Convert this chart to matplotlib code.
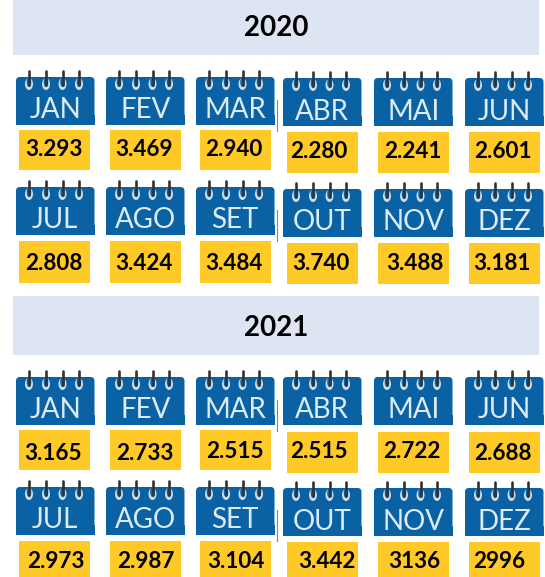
import matplotlib
matplotlib.use("Agg")
import matplotlib.pyplot as plt
from matplotlib.patches import Rectangle, FancyBboxPatch, Ellipse

years = ["2020", "2021"]
months = ["JAN", "FEV", "MAR", "ABR", "MAI", "JUN", "JUL", "AGO", "SET", "OUT", "NOV", "DEZ"]
values_2020 = ["3.293", "3.469", "2.940", "2.280", "2.241", "2.601",
               "2.808", "3.424", "3.484", "3.740", "3.488", "3.181"]
values_2021 = ["3.165", "2.733", "2.515", "2.515", "2.722", "2.688",
               "2.973", "2.987", "3.104", "3.442", "3136", "2996"]

# layout, in reference pixels
W, H = 545, 577
BLUE, YEL, BAND = "#0A62A5", "#FFC928", "#DCE5F1"
cal_left = [16, 106, 196, 283, 374, 465]
cal_w = 78.5
box_left = [19, 110, 200, 287, 378, 469]
box_w = 70.5
band_rows = [(0, 55), (296, 355)]
title_y = [28.5, 327.5]
# [year][row][left half, right half]
cal_top = [[(77, 78), (187, 189)], [(377, 377), (487, 488)]]
cal_h = 48
box_top = [[(130, 132), (241, 243)], [(430, 432), (541, 542)]]
box_bot = [[(170, 173), (283, 284)], [(470, 473), (580, 580)]]
label_x = [[54, 144, 234, 319, 413, 503, 54, 144, 234, 321, 415, 502],
           [53, 145, 235, 319, 412, 503, 56, 146, 236, 327, 414, 499]]
label_y = [[150, 150, 150, 151, 151, 151, 264, 264, 264, 264, 264, 264],
           [453, 453, 452, 451, 451, 454, 562, 562, 562, 562, 562, 562]]

fig = plt.figure(figsize=(W / 100, H / 100), dpi=100)
ax = fig.add_axes([0, 0, 1, 1])
ax.set_xlim(0, W)
ax.set_ylim(H, 0)
ax.axis("off")
fam = ["Lato", "DejaVu Sans"]


def calendar(x, top, name):
    bot = top + cal_h
    ax.add_patch(FancyBboxPatch((x, top), cal_w, cal_h,
                                boxstyle="round,pad=0,rounding_size=4",
                                fc=BLUE, ec="none", zorder=2))
    ax.add_patch(Rectangle((x, bot - 10), cal_w, 10, fc=BLUE, ec="none", zorder=2))
    for dx in (13, 30, 46.5, 63):
        ax.add_patch(Ellipse((x + dx, top + 7), 8, 12, fc="#C9DDEC", ec="none", zorder=3))
        ax.add_patch(Ellipse((x + dx, top + 5), 4.5, 10, fc=BLUE, ec="none", zorder=3.1))
        ax.plot([x + dx, x + dx], [top - 6, top + 8], color="#2E3338", lw=1.9,
                solid_capstyle="round", zorder=4)
    ax.text(x + cal_w / 2, top + 33.5, name, color="#DCEBF5", fontsize=20, family=fam,
            ha="center", va="center", zorder=5)


for k, values in enumerate([values_2020, values_2021]):
    b0, b1 = band_rows[k]
    ax.add_patch(Rectangle((13, b0), 526, b1 - b0, fc=BAND, ec="none", zorder=1))
    ax.text(276, title_y[k], years[k], fontsize=20, fontweight="bold", family=fam,
            ha="center", va="center", color="black", zorder=5)
    for i, (m, v) in enumerate(zip(months, values)):
        r, c = i // 6, i % 6
        side = 0 if c < 3 else 1
        calendar(cal_left[c], cal_top[k][r][side], m)
        y0, y1 = box_top[k][r][side], box_bot[k][r][side]
        ax.add_patch(Rectangle((box_left[c], y0), box_w, y1 - y0, fc=YEL, ec="none", zorder=2))
        ax.text(label_x[k][i], label_y[k][i], v, fontsize=16.2, fontweight="bold", family=fam,
                ha="center", va="center", color="black", zorder=5)
    # thin divider seen beside the MAR and SET calendars
    for r in range(2):
        t = cal_top[k][r][0]
        ax.plot([277, 277], [t + 23, t + 54], color="#8A8578", lw=0.8, zorder=1)

fig.savefig("out.png", dpi=100, facecolor="white")
